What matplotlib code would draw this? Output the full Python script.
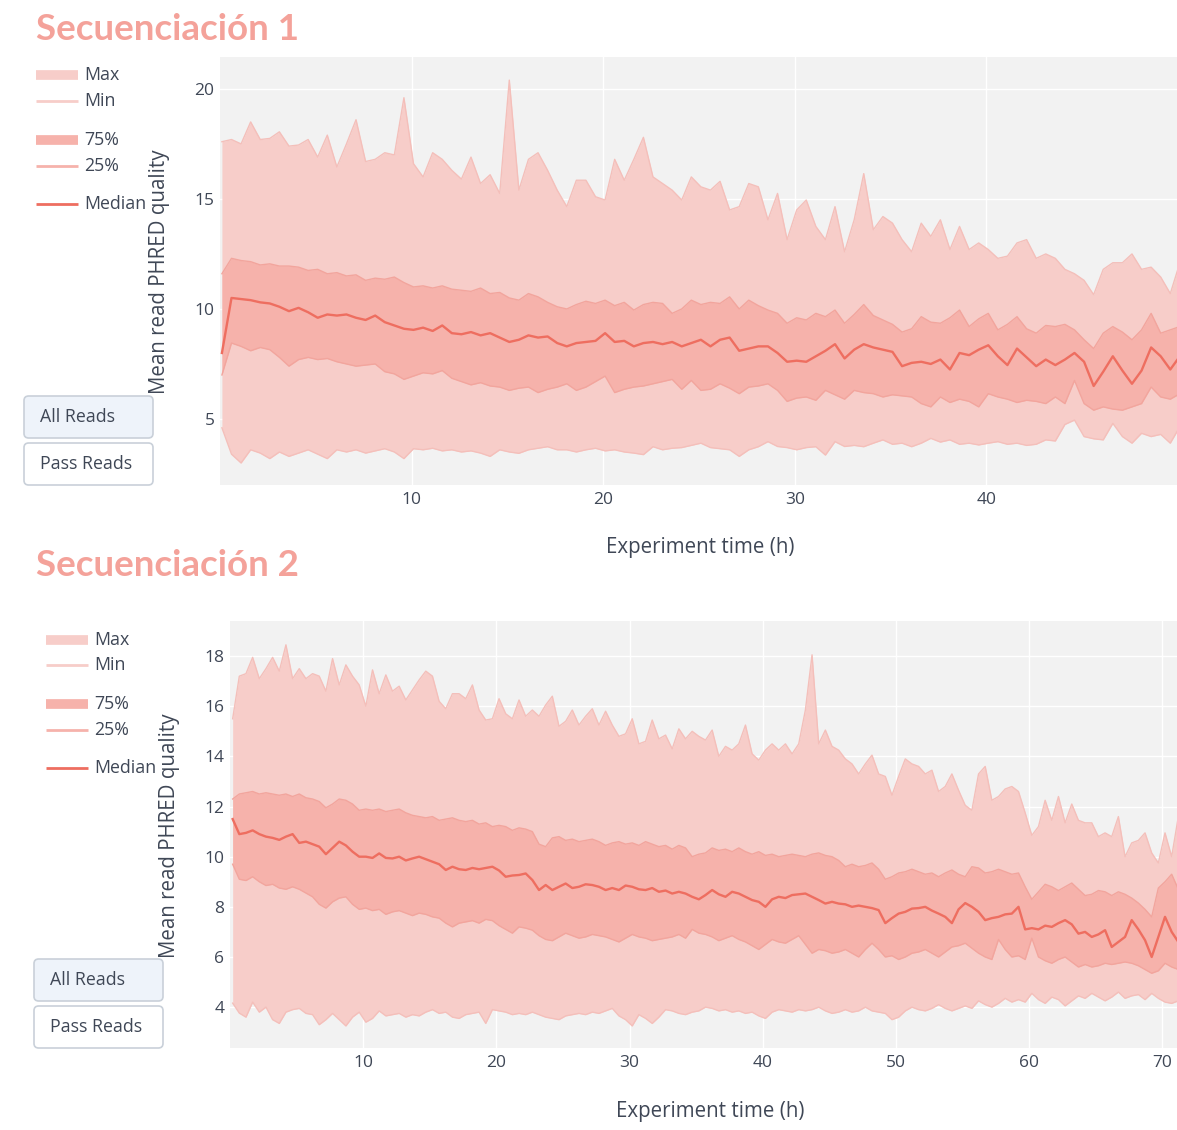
import numpy as np
import matplotlib
matplotlib.use("Agg")
import matplotlib.pyplot as plt
from matplotlib.lines import Line2D
from matplotlib.patches import FancyBboxPatch

plt.rcParams['font.family'] = ['Open Sans', 'DejaVu Sans']

# ---------------- data: Secuenciación 1 (every 0.5 h from 0.1 h) ----------------
hours1 = 0.1 + 0.5 * np.arange(101)

max1 = [17.6, 17.7, 17.5, 18.5, 17.7, 17.75, 18.05, 17.4, 17.45, 17.7,
        16.9, 17.9, 16.45, 17.5, 18.6, 16.7, 16.8, 17.1, 17.0, 19.6,
        16.6, 16.0, 17.1, 16.8, 16.3, 15.9, 16.9, 15.7, 16.1, 15.25,
        20.4, 15.4, 16.8, 17.1, 16.3, 15.4, 14.65, 15.85, 15.85, 15.1,
        14.95, 16.8, 15.85, 16.8, 17.8, 16.0, 15.7, 15.4, 14.95, 16.0,
        15.55, 15.4, 15.8, 14.5, 14.65, 15.7, 15.55, 14.05, 15.25, 13.15,
        14.5, 14.95, 13.75, 13.15, 14.65, 12.6, 14.05, 16.15, 13.6, 14.2,
        13.9, 13.15, 12.6, 13.9, 13.3, 14.05, 12.7, 13.75, 12.7, 13.0,
        12.7, 12.3, 12.4, 13.0, 13.15, 12.3, 12.5, 12.3, 11.8, 11.6,
        11.3, 10.65, 11.8, 12.1, 12.1, 12.5, 11.8, 11.9, 11.45, 10.7,
        12.1]

q75_1 = [11.6, 12.3, 12.2, 12.15, 12.0, 12.05, 11.95, 11.95, 11.9, 11.75,
         11.8, 11.6, 11.65, 11.5, 11.55, 11.3, 11.4, 11.35, 11.45, 11.2,
         11.0, 11.05, 10.95, 11.05, 10.9, 10.85, 10.8, 10.95, 10.7, 10.75,
         10.5, 10.4, 10.7, 10.55, 10.3, 10.1, 10.0, 10.2, 10.35, 10.25,
         10.4, 10.15, 10.3, 9.95, 10.2, 10.3, 10.25, 9.8, 10.0, 10.4,
         10.2, 10.3, 10.25, 10.55, 10.0, 10.4, 10.15, 9.95, 9.8, 9.35,
         9.6, 9.5, 9.8, 9.65, 9.95, 9.35, 9.75, 10.2, 9.7, 9.5,
         9.3, 8.95, 9.1, 9.65, 9.4, 9.35, 9.6, 9.95, 9.2, 9.55,
         9.8, 9.05, 9.3, 9.65, 9.1, 8.9, 9.25, 9.2, 9.3, 9.05,
         8.6, 8.2, 8.9, 9.2, 8.95, 8.6, 9.05, 9.8, 8.9, 9.05,
         9.2]

median1 = [8.0, 10.5, 10.45, 10.4, 10.3, 10.25, 10.1, 9.9, 10.05, 9.85,
           9.6, 9.75, 9.7, 9.75, 9.6, 9.5, 9.7, 9.4, 9.25, 9.1,
           9.05, 9.15, 9.0, 9.25, 8.9, 8.85, 8.95, 8.8, 8.9, 8.7,
           8.5, 8.6, 8.8, 8.7, 8.75, 8.45, 8.3, 8.45, 8.5, 8.55,
           8.9, 8.5, 8.55, 8.3, 8.45, 8.5, 8.4, 8.5, 8.3, 8.45,
           8.6, 8.3, 8.6, 8.7, 8.1, 8.2, 8.3, 8.3, 8.0, 7.6,
           7.65, 7.6, 7.85, 8.1, 8.4, 7.75, 8.15, 8.4, 8.25, 8.15,
           8.05, 7.4, 7.55, 7.6, 7.5, 7.7, 7.25, 8.0, 7.9, 8.15,
           8.35, 7.85, 7.45, 8.2, 7.8, 7.4, 7.7, 7.45, 7.7, 8.0,
           7.6, 6.5, 7.15, 7.85, 7.2, 6.6, 7.2, 8.25, 7.85, 7.25,
           7.85]

q25_1 = [7.0, 8.45, 8.3, 8.1, 8.25, 8.15, 7.8, 7.4, 7.7, 7.8,
         7.7, 7.75, 7.6, 7.5, 7.4, 7.45, 7.5, 7.15, 7.05, 6.8,
         6.95, 7.1, 7.05, 7.2, 6.85, 6.7, 6.55, 6.65, 6.5, 6.45,
         6.3, 6.4, 6.45, 6.2, 6.35, 6.45, 6.6, 6.3, 6.45, 6.7,
         6.95, 6.2, 6.35, 6.45, 6.5, 6.6, 6.7, 6.8, 6.35, 6.75,
         6.3, 6.35, 6.6, 6.4, 6.15, 6.45, 6.5, 6.6, 6.3, 5.8,
         5.95, 6.0, 5.85, 6.3, 6.1, 5.9, 6.3, 6.2, 6.15, 6.0,
         6.1, 6.05, 6.0, 5.7, 5.55, 6.0, 5.75, 5.9, 5.8, 5.55,
         6.15, 6.0, 5.9, 5.75, 5.85, 5.8, 5.7, 6.0, 5.7, 6.75,
         5.7, 5.4, 5.55, 5.45, 5.4, 5.55, 5.7, 6.45, 6.0, 5.9,
         6.15]

min1 = [4.6, 3.4, 3.0, 3.6, 3.45, 3.2, 3.5, 3.3, 3.45, 3.6,
        3.4, 3.2, 3.6, 3.5, 3.6, 3.45, 3.55, 3.65, 3.5, 3.2,
        3.65, 3.6, 3.67, 3.55, 3.6, 3.5, 3.55, 3.45, 3.3, 3.6,
        3.5, 3.44, 3.6, 3.67, 3.74, 3.6, 3.6, 3.5, 3.6, 3.67,
        3.55, 3.6, 3.5, 3.45, 3.38, 3.74, 3.6, 3.67, 3.7, 3.8,
        3.9, 3.7, 3.65, 3.6, 3.3, 3.6, 3.74, 3.97, 3.75, 3.7,
        3.6, 3.7, 3.74, 3.36, 3.97, 3.75, 3.8, 3.74, 3.9, 4.05,
        3.85, 3.9, 3.74, 3.9, 4.12, 3.95, 4.05, 3.85, 3.9, 3.82,
        3.9, 3.97, 3.85, 3.9, 3.8, 3.85, 4.05, 4.0, 4.75, 4.95,
        4.2, 4.1, 4.05, 4.8, 4.2, 3.9, 4.35, 4.2, 4.3, 3.9,
        4.65]

# ---------------- data: Secuenciación 2 (every 0.5 h from 0.2 h) ----------------
hours2 = 0.2 + 0.5 * np.arange(143)

max2 = [15.5, 17.2, 17.3, 17.95, 17.1, 17.5, 17.95, 17.4, 18.45, 17.1,
        17.5, 17.1, 17.3, 17.2, 16.6, 17.9, 16.85, 17.65, 17.2, 16.85,
        16.0, 17.45, 16.5, 17.25, 16.6, 16.8, 16.25, 16.65, 17.05, 17.4,
        17.2, 16.2, 15.9, 16.5, 16.5, 16.3, 16.85, 15.85, 15.45, 15.5,
        16.3, 15.7, 15.5, 16.25, 15.6, 15.85, 15.6, 16.05, 16.4, 15.2,
        15.4, 15.85, 15.25, 15.6, 15.9, 15.25, 15.8, 15.25, 14.8, 14.9,
        15.5, 14.5, 14.6, 15.45, 14.7, 14.85, 14.3, 15.1, 14.7, 15.0,
        14.8, 14.65, 15.05, 14.0, 14.4, 14.25, 14.5, 15.25, 14.1, 13.85,
        14.25, 14.5, 14.25, 14.5, 14.1, 14.5, 15.85, 18.05, 14.5, 15.05,
        14.4, 14.25, 13.9, 13.7, 13.3, 13.7, 14.05, 13.3, 13.2, 12.45,
        13.2, 13.9, 13.7, 13.6, 13.3, 13.45, 12.6, 12.8, 13.3, 12.65,
        12.05, 11.85, 13.3, 13.6, 12.25, 12.4, 12.7, 12.8, 12.6, 11.75,
        10.85, 11.2, 12.25, 11.45, 12.4, 11.35, 12.1, 11.45, 11.35, 11.35,
        10.8, 10.95, 10.8, 11.6, 10.0, 10.55, 10.65, 10.95, 10.15, 9.75,
        10.95, 10.0, 11.6]

q75_2 = [12.3, 12.5, 12.55, 12.6, 12.5, 12.55, 12.5, 12.45, 12.5, 12.4,
         12.5, 12.35, 12.3, 12.2, 11.95, 12.1, 12.3, 12.25, 12.1, 11.85,
         11.9, 11.85, 11.9, 11.8, 11.85, 11.9, 11.75, 11.65, 11.6, 11.55,
         11.6, 11.45, 11.5, 11.55, 11.45, 11.4, 11.45, 11.3, 11.35, 11.2,
         11.25, 11.2, 11.05, 11.15, 11.1, 11.0, 10.5, 10.4, 10.75, 10.8,
         10.65, 10.7, 10.6, 10.65, 10.7, 10.6, 10.45, 10.55, 10.6, 10.5,
         10.55, 10.45, 10.6, 10.5, 10.4, 10.45, 10.3, 10.45, 10.35, 10.0,
         10.1, 10.15, 10.35, 10.25, 10.3, 10.2, 10.35, 10.2, 10.1, 10.2,
         10.05, 10.1, 10.0, 10.05, 10.1, 10.05, 10.0, 10.1, 10.15, 10.05,
         10.0, 9.85, 9.6, 9.7, 9.6, 9.65, 9.75, 9.5, 9.1, 9.2,
         9.35, 9.4, 9.5, 9.4, 9.3, 9.35, 9.2, 9.35, 9.47, 9.3,
         9.2, 9.6, 9.55, 9.35, 9.4, 9.5, 9.4, 9.3, 9.35, 8.8,
         8.3, 8.6, 8.9, 8.8, 8.65, 8.8, 8.95, 8.7, 8.45, 8.5,
         8.65, 8.6, 8.45, 8.6, 8.5, 8.35, 8.15, 7.9, 7.6, 8.75,
         9.0, 9.3, 8.7]

median2 = [11.5, 10.9, 10.95, 11.05, 10.9, 10.8, 10.75, 10.67, 10.8, 10.9,
           10.55, 10.6, 10.5, 10.4, 10.1, 10.35, 10.6, 10.45, 10.2, 10.0,
           10.0, 9.95, 10.13, 9.95, 9.93, 10.0, 9.85, 9.93, 10.0, 9.9,
           9.8, 9.7, 9.47, 9.6, 9.5, 9.47, 9.55, 9.5, 9.55, 9.6,
           9.45, 9.2, 9.25, 9.27, 9.33, 9.07, 8.67, 8.87, 8.67, 8.8,
           8.93, 8.75, 8.8, 8.9, 8.87, 8.8, 8.67, 8.75, 8.67, 8.85,
           8.8, 8.7, 8.67, 8.75, 8.6, 8.65, 8.53, 8.6, 8.53, 8.4,
           8.3, 8.47, 8.67, 8.5, 8.4, 8.6, 8.53, 8.4, 8.27, 8.2,
           8.0, 8.3, 8.4, 8.35, 8.47, 8.5, 8.53, 8.4, 8.27, 8.13,
           8.2, 8.13, 8.1, 8.0, 8.05, 8.0, 7.95, 7.87, 7.35, 7.55,
           7.73, 7.8, 7.93, 7.95, 8.0, 7.85, 7.73, 7.6, 7.35, 7.9,
           8.15, 8.0, 7.8, 7.47, 7.55, 7.6, 7.7, 7.73, 8.0, 7.1,
           7.15, 7.1, 7.25, 7.2, 7.35, 7.47, 7.3, 6.93, 7.0, 6.8,
           6.9, 7.07, 6.4, 6.6, 6.8, 7.47, 7.1, 6.67, 6.0, 6.8,
           7.6, 7.0, 6.6]

q25_2 = [9.7, 9.1, 9.05, 9.2, 9.0, 8.85, 8.9, 8.75, 8.7, 8.8,
         8.7, 8.55, 8.4, 8.1, 7.95, 8.2, 8.35, 8.4, 8.1, 7.9,
         7.95, 7.85, 7.9, 7.7, 7.8, 7.85, 7.75, 7.65, 7.75, 7.7,
         7.6, 7.55, 7.35, 7.2, 7.35, 7.4, 7.45, 7.35, 7.5, 7.45,
         7.25, 7.1, 6.95, 7.2, 7.15, 7.07, 6.85, 6.7, 6.65, 6.8,
         6.95, 6.85, 6.75, 6.8, 6.9, 6.85, 6.8, 6.7, 6.6, 6.75,
         6.9, 6.8, 6.75, 6.65, 6.7, 6.75, 6.8, 6.9, 6.75, 7.1,
         6.95, 6.9, 6.8, 6.65, 6.75, 6.85, 6.7, 6.6, 6.45, 6.3,
         6.5, 6.7, 6.6, 6.55, 6.7, 6.85, 6.5, 6.15, 6.3, 6.25,
         6.15, 6.2, 6.3, 6.15, 6.0, 6.3, 6.55, 6.3, 6.0, 6.05,
         5.9, 6.0, 6.15, 6.2, 6.3, 6.15, 6.0, 6.2, 6.4, 6.45,
         6.55, 6.35, 6.15, 6.0, 5.9, 6.7, 6.3, 6.0, 6.05, 5.9,
         6.75, 6.0, 5.85, 5.75, 5.9, 6.0, 5.8, 5.6, 5.7, 5.6,
         5.65, 5.75, 5.7, 5.75, 5.8, 5.75, 5.65, 5.5, 5.35, 5.45,
         5.75, 5.6, 5.5]

min2 = [4.16, 3.76, 3.6, 4.2, 3.8, 4.0, 3.5, 3.35, 3.8, 3.9,
        3.95, 3.75, 3.7, 3.3, 3.5, 3.75, 3.5, 3.25, 3.6, 3.8,
        3.4, 3.55, 3.85, 3.65, 3.7, 3.75, 3.6, 3.7, 3.65, 3.8,
        3.9, 3.75, 3.8, 3.6, 3.55, 3.7, 3.75, 3.8, 3.35, 3.9,
        3.85, 3.8, 3.7, 3.75, 3.7, 3.8, 3.7, 3.6, 3.55, 3.5,
        3.65, 3.7, 3.75, 3.7, 3.8, 3.75, 3.85, 3.95, 3.65, 3.5,
        3.25, 3.7, 3.55, 3.35, 3.6, 3.9, 3.85, 3.75, 3.7, 3.8,
        3.85, 4.0, 3.95, 3.85, 3.9, 3.8, 3.85, 3.75, 3.8, 3.65,
        3.55, 3.8, 3.9, 3.85, 3.8, 3.9, 3.85, 3.9, 4.0, 3.85,
        3.75, 3.8, 3.9, 3.8, 3.85, 4.0, 3.85, 3.8, 3.75, 3.5,
        3.6, 3.85, 4.0, 3.9, 3.85, 3.95, 4.1, 3.95, 3.85, 3.95,
        4.05, 3.95, 4.25, 4.1, 4.0, 4.15, 4.35, 4.2, 4.3, 4.2,
        4.55, 4.3, 4.15, 4.4, 4.3, 4.05, 4.25, 4.45, 4.35, 4.55,
        4.4, 4.25, 4.4, 4.6, 4.35, 4.45, 4.5, 4.3, 4.55, 4.35,
        4.2, 4.15, 4.25]

legend_labels = ["Max", "Min", "75%", "25%", "Median"]
button_labels = ["All Reads", "Pass Reads"]

# ---------------- styling ----------------
W, H = 1177, 1130
col_outer = "#f7cdc9"
col_outer_edge = "#f4bfba"
col_inner = "#f6b2ab"
col_inner_edge = "#f2a59d"
col_median = "#ee6e60"
col_text = "#3f4756"
col_title = "#f4a29a"
bg = "#f2f2f2"
fs_tick = 12.5
fs_axis = 14.8
fs_leg = 12.8


def px(x, y):
    return x / W, 1 - y / H


fig = plt.figure(figsize=(W / 100, H / 100), dpi=100)


def draw_panel(rect, hrs, mx, q75, med, q25, mn, xlim, ylim, yticks, xticks):
    ax = fig.add_axes(rect)
    ax.set_facecolor(bg)
    ax.fill_between(hrs, mn, mx, color=col_outer, lw=0, zorder=2)
    ax.fill_between(hrs, q25, q75, color=col_inner, lw=0, zorder=3)
    ax.plot(hrs, mx, color=col_outer_edge, lw=1.0, zorder=4)
    ax.plot(hrs, mn, color=col_outer_edge, lw=1.0, zorder=4)
    ax.plot(hrs, q75, color=col_inner_edge, lw=1.0, zorder=4)
    ax.plot(hrs, q25, color=col_inner_edge, lw=1.0, zorder=4)
    ax.plot(hrs, med, color=col_median, lw=1.7, zorder=5)
    ax.set_xlim(*xlim)
    ax.set_ylim(*ylim)
    ax.set_xticks(xticks)
    ax.set_yticks(yticks)
    ax.grid(True, color="white", lw=1.0, zorder=1)
    ax.set_axisbelow(True)
    for s in ax.spines.values():
        s.set_visible(False)
    ax.tick_params(length=0, labelsize=fs_tick, labelcolor=col_text)
    ax.tick_params(axis="x", pad=5)
    ax.tick_params(axis="y", pad=4)
    return ax


ax1 = draw_panel([220 / W, 1 - 485 / H, 957 / W, 428 / H],
                 hours1, max1, q75_1, median1, q25_1, min1,
                 (0, 49.95), (2.0, 21.45), [5, 10, 15, 20], [10, 20, 30, 40])
ax2 = draw_panel([230 / W, 1 - 1048 / H, 947 / W, 427 / H],
                 hours2, max2, q75_2, median2, q25_2, min2,
                 (0, 71.1), (2.37, 19.4), [4, 6, 8, 10, 12, 14, 16, 18],
                 [10, 20, 30, 40, 50, 60, 70])

# axis titles
for (xl, yl), (yx, yy) in [((700, 548), (159, 272)), ((710, 1112), (169, 836))]:
    fig.text(*px(xl, yl), "Experiment time (h)", ha="center", va="center",
             fontsize=fs_axis, color=col_text)
    fig.text(*px(yx, yy), "Mean read PHRED quality", ha="center", va="center",
             rotation=90, fontsize=fs_axis, color=col_text)

# section titles
fig.text(*px(36, 30), "Secuenciación 1", ha="left", va="center",
         fontsize=26.5, fontweight="bold", color=col_title, family=["Lato", "DejaVu Sans"])
fig.text(*px(36, 565), "Secuenciación 2", ha="left", va="center",
         fontsize=26.5, fontweight="bold", color=col_title, family=["Lato", "DejaVu Sans"])


# legends
def draw_legend(x0, ys):
    styles = [(col_outer, 7), (col_outer, 2), (col_inner, 7), (col_inner, 2), (col_median, 2)]
    for lab, y, (c, lw) in zip(legend_labels, ys, styles):
        fig.add_artist(Line2D([x0 / W, (x0 + 42) / W], [1 - y / H, 1 - y / H],
                              color=c, lw=lw, solid_capstyle="butt"))
        fig.text(*px(x0 + 48, y), lab, ha="left", va="center", fontsize=fs_leg, color=col_text)


draw_legend(36, [75, 101, 140, 166, 204])
draw_legend(46, [640, 665, 704, 730, 768])


# buttons
def draw_buttons(x0, tops):
    for lab, top, fc in zip(button_labels, tops, ["#eef3fa", "white"]):
        bx, by = px(x0, top + 42)
        box = FancyBboxPatch((bx, by), 129 / W, 42 / H,
                             boxstyle="round,pad=0,rounding_size=0.004",
                             transform=fig.transFigure, fc=fc, ec="#c9d0d9", lw=1.2)
        fig.add_artist(box)
        fig.text(*px(x0 + 16, top + 21), lab, ha="left", va="center",
                 fontsize=fs_leg, color=col_text)


draw_buttons(24, [396, 443])
draw_buttons(34, [959, 1006])

fig.savefig("out.png", dpi=100)
